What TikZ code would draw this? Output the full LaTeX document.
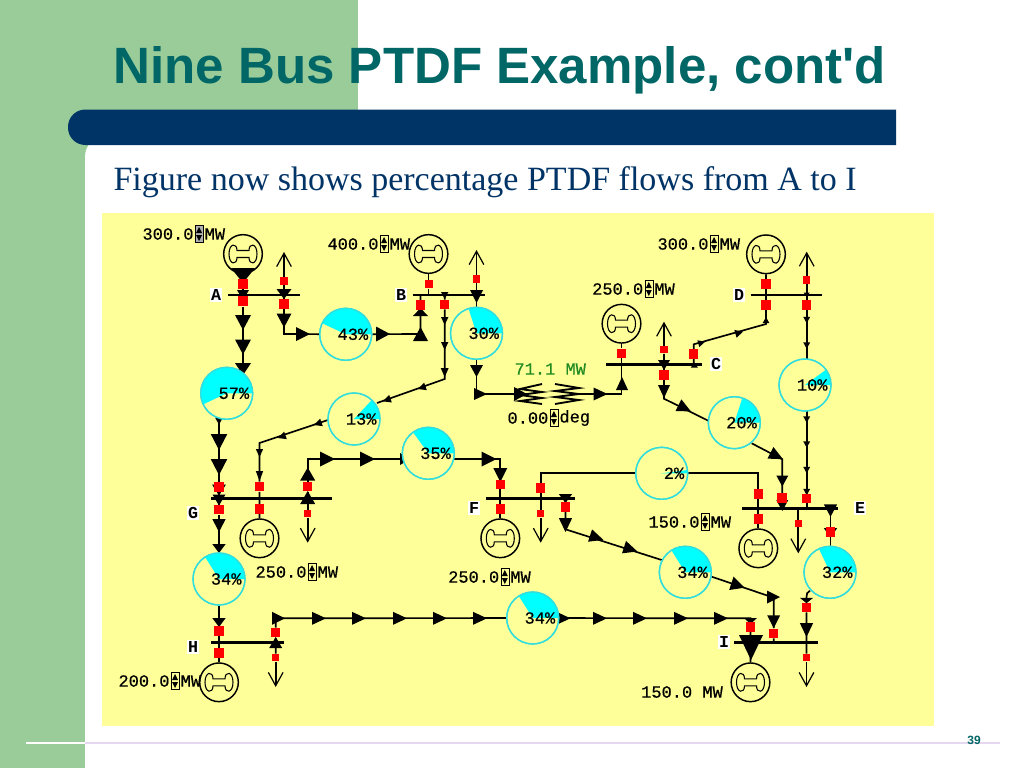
\documentclass[tikz,border=0pt]{standalone}
\usepackage{fontspec}
\setmainfont{Liberation Sans}
\newfontfamily\titlefam{Liberation Sans}
\newfontfamily\monofam[FakeBold=0.5]{Liberation Mono}
\newfontfamily\labelfam{Liberation Mono}
\newfontfamily\seriffam{Liberation Serif}
\usetikzlibrary{positioning,arrows.meta,backgrounds}

\definecolor{panelgreen}{RGB}{153,204,153}
\definecolor{barnavy}{RGB}{0,51,102}
\definecolor{titleteal}{RGB}{0,102,102}
\definecolor{panelyellow}{RGB}{255,255,153}
\definecolor{piecyan}{RGB}{0,255,255}
\definecolor{piering}{RGB}{51,221,221}
\definecolor{flowgreen}{RGB}{34,139,34}
\definecolor{rulelav}{RGB}{230,216,240}

\tikzset{every picture/.style={line width=0.75pt}}
\tikzset{
  flowline/.style={line width=1.25pt,color=black},
  loadline/.style={flowline,-{Straight Barb[length=10pt,width=11pt,line width=0.9pt]}},
  busline/.style={line width=1.9pt,color=black},
  breaker/.style={fill=red,inner sep=0pt,minimum size=7pt},
  smallbreaker/.style={fill=red,inner sep=0pt,minimum size=5.4pt},
  gencircle/.style={circle,draw,line width=1.1pt,inner sep=0pt,minimum size=29pt},
  piecircle/.style={circle,draw=piering,line width=1pt,fill=panelyellow,inner sep=0pt,minimum size=39pt},
  monotext/.style={font=\monofam\fontsize{12.75}{14}\selectfont,inner sep=0pt},
  pietext/.style={monotext,anchor=east,xshift=17.25pt},
  buslabel/.style={font=\labelfam\bfseries\fontsize{12.5}{14}\selectfont,fill=white,inner sep=1pt},
  spinbox/.style={draw,line width=0.4pt,inner sep=0pt,minimum width=6pt,minimum height=12.5pt},
}

% gen symbol
\newcommand{\genset}[3]{
  \node [gencircle] (#1) at (#2,#3) {};
  \draw [line width=0.8pt,shift={(#1)}] (-6,-3.5) .. controls (-6,-11.5) and (-14,-11) .. (-14,0) .. controls (-14,11) and (-6,11.5) .. (-6,3.5) -- (6,3.5) .. controls (6,11.5) and (14,11) .. (14,0) .. controls (14,-11) and (6,-11.5) .. (6,-3.5) -- cycle ;
}
% pie with percentage
\newcommand{\pieflow}[4]{
  \node [piecircle] (#1) at (#2,#3) {};
  \fill [piecyan,shift={(#1)}] (0,0) -- (26,0) arc [start angle=0,end angle=-3.6*#4,radius=26] -- cycle ;
  \draw [piering,line width=1pt] (#1) circle [radius=26];
  \node [pietext] (#1txt) at (#1) {#4\%};
}
% value, spin control and unit
\newcommand{\spinlabel}[6][panelyellow]{
  \node [monotext,anchor=west] (#2val) at (#3,#4) {#5};
  \node [spinbox,fill=#1,right=0.6pt of #2val] (#2spin) {};
  \fill [shift={(#2spin)}] (-3,-1) -- (3,-1) -- (0,-7) -- cycle ;
  \fill [shift={(#2spin)}] (-3,1) -- (3,1) -- (0,7) -- cycle ;
  \node [monotext,right=0.6pt of #2spin] (#2unit) {#6};
}
% triangle on a line: x, y, heading, length, half width
\newcommand{\flowtip}[5]{
  \fill [shift={(#1,#2)},rotate=#3] (-#4/2,-#5) -- (#4/2,0) -- (-#4/2,#5) -- cycle ;
}

\begin{document}
\begin{tikzpicture}[x=0.75pt,y=0.75pt,yscale=-1,xscale=1]
\useasboundingbox (0,0) rectangle (1024,768);

% Text Node
\node [font=\titlefam\bfseries\fontsize{38.3}{42}\selectfont,text=titleteal,anchor=west,inner sep=0pt] (title) at (113,70) {Nine Bus PTDF Example, cont'd};
\node [font=\seriffam\fontsize{25.5}{30}\selectfont,text=barnavy,anchor=west,inner sep=0pt] (subtitle) at (113,182) {Figure now shows percentage PTDF flows from A to I};
\node [font=\titlefam\bfseries\fontsize{9}{10}\selectfont,text=titleteal,inner sep=0pt] (pagenum) at (974,740) {39};

% Generators
\genset{genA}{243}{254}
\genset{genB}{428.5}{254}
\genset{genC}{621.5}{323.7}
\genset{genD}{766}{254.3}
\genset{genE}{758.3}{548.3}
\genset{genF}{500.3}{538.3}
\genset{genG}{259.5}{538.3}
\genset{genH}{219}{682.3}
\genset{genI}{750.5}{682.3}

% Pies
\pieflow{pie43}{345.7}{334.3}{43}
\pieflow{pie57}{226.7}{393.3}{57}
\pieflow{pie30}{476.5}{333.3}{30}
\pieflow{pie13}{354}{419}{13}
\pieflow{pie35}{428.3}{453.3}{35}
\pieflow{pie20}{734.3}{422.7}{20}
\pieflow{pie10}{805}{385}{10}
\pieflow{pie2}{661.7}{473.3}{2}
\pieflow{pie34G}{219}{579}{34}
\pieflow{pie34I}{532.7}{618}{34}
\pieflow{pie34F}{685.3}{572.3}{34}
\pieflow{pie32}{830}{572.3}{32}

% Breakers
\node [breaker] (brkAa) at (243,284) {};
\node [breaker,minimum size=7.5pt] (brkAb) at (243,301) {};
\node [smallbreaker] (brkAc) at (284,281) {};
\node [breaker] (brkAd) at (284,304) {};
\node [breaker,minimum size=6pt] (brkBa) at (428.5,284) {};
\node [breaker] (brkBb) at (420.5,305) {};
\node [breaker,minimum size=6.4pt] (brkBc) at (444.7,304.5) {};
\node [smallbreaker] (brkBd) at (476.5,279) {};
\node [breaker] (brkCa) at (621.5,353.3) {};
\node [smallbreaker] (brkCb) at (664,349.7) {};
\node [breaker] (brkCc) at (664,375) {};
\node [breaker] (brkCd) at (693.7,354) {};
\node [breaker] (brkDa) at (766,284) {};
\node [breaker] (brkDb) at (766,305) {};
\node [smallbreaker] (brkDc) at (806.7,280) {};
\node [breaker] (brkDd) at (806.7,305) {};
\node [breaker] (brkEa) at (758.3,494) {};
\node [breaker,minimum size=7.5pt] (brkEb) at (782.3,498.3) {};
\node [breaker] (brkEc) at (758.3,519) {};
\node [breaker] (brkEd) at (806.7,498.3) {};
\node [smallbreaker] (brkEe) at (798.3,523.7) {};
\node [breaker] (brkEf) at (830.5,532) {};
\node [breaker] (brkFa) at (500.3,484.3) {};
\node [breaker] (brkFb) at (500.3,509) {};
\node [breaker] (brkFc) at (540.7,488) {};
\node [smallbreaker] (brkFd) at (540.7,513.7) {};
\node [breaker] (brkFe) at (565.5,507) {};
\node [breaker,minimum size=7.5pt] (brkGa) at (219,487) {};
\node [breaker] (brkGb) at (219,509.7) {};
\node [breaker] (brkGc) at (259.5,486.7) {};
\node [breaker] (brkGe) at (259.5,509) {};
\node [breaker] (brkGd) at (307.7,486.7) {};
\node [smallbreaker] (brkGf) at (307.7,513.7) {};
\node [breaker] (brkHa) at (219,631) {};
\node [breaker] (brkHb) at (219,653) {};
\node [breaker] (brkHc) at (275.7,632.7) {};
\node [smallbreaker] (brkHd) at (275.7,657.7) {};
\node [breaker] (brkIa) at (773.7,633.3) {};
\node [breaker] (brkIb) at (806.5,607.3) {};
\node [smallbreaker] (brkIc) at (806.5,657.7) {};
\node [breaker] (brkId) at (750.5,627) {};

% Junctions and load ends
\coordinate (busAw) at (228,295); \coordinate (busAe) at (300,295);
\coordinate (busBw) at (412.7,295); \coordinate (busBe) at (485,295);
\coordinate (busCw) at (606,364.3); \coordinate (busCe) at (701.7,364.3);
\coordinate (busDw) at (750.7,295); \coordinate (busDe) at (822.3,295);
\coordinate (busEw) at (742.3,508.3); \coordinate (busEe) at (838.3,508.3);
\coordinate (busFw) at (485.7,498.3); \coordinate (busFe) at (575,498.3);
\coordinate (busGw) at (211,498.3); \coordinate (busGe) at (331.7,498.3);
\coordinate (busHw) at (211,642.7); \coordinate (busHe) at (284,642.7);
\coordinate (busIw) at (734.3,642.7); \coordinate (busIe) at (818.3,642.7);
\coordinate (loadA) at (284,252);
\coordinate (loadB) at (476.5,250);
\coordinate (loadC) at (664,321.7);
\coordinate (loadD) at (806.7,251.7);
\coordinate (loadE) at (798.3,553.3);
\coordinate (loadF) at (540.7,542.7);
\coordinate (loadG) at (307.7,542.7);
\coordinate (loadH) at (275.7,687);
\coordinate (loadI) at (806.5,687);
\coordinate (jctA) at (284,334);
\coordinate (jctB) at (420.5,334);
\coordinate (jctBc) at (444.7,379);
\coordinate (jctBe) at (476.5,394);
\coordinate (pt13in) at (377,403);
\coordinate (pt13out) at (328,420);
\coordinate (jctGa) at (259.5,443);
\coordinate (jctGb) at (307.7,459);
\coordinate (jctFb) at (500.3,459);
\coordinate (jctC) at (621.5,394);
\coordinate (jctCc) at (664,398.7);
\coordinate (pt20in) at (708.3,420.7);
\coordinate (pt20out) at (751.7,443.3);
\coordinate (jctEb) at (782.3,459.3);
\coordinate (jctCd) at (693.7,344.3);
\coordinate (jctD) at (766,324);
\coordinate (jctEa) at (758.3,473.3);
\coordinate (jctFa) at (540.7,473.3);
\coordinate (jctFc) at (565.5,529.3);
\coordinate (pt34in) at (661.7,560);
\coordinate (pt34out) at (711.7,576.7);
\coordinate (jctIb) at (773.7,597.7);
\coordinate (jctH) at (275.7,618.3);
\coordinate (jctIa) at (750.5,618.3);
\coordinate (pt32out) at (810,590.7);
\coordinate (jctIc) at (806.5,597);
\coordinate (xfmrW) at (522,394);
\coordinate (xfmrE) at (572,394);

\begin{scope}[on background layer]
%Shape: page panels
\fill [white] (0,0) rectangle (1024,768);
\fill [panelgreen] (0,0) rectangle (358,768);
\fill [white,rounded corners=16.5pt] (85,135) rectangle (1100,830);
\fill [barnavy] (896,109.5) [rounded corners=13pt] -- (68,109.5) -- (68,145) [sharp corners] -- (896,145) -- cycle ;
\fill [panelyellow] (102,212.5) rectangle (934,726);
\draw [white,line width=0.9pt] (26,743) -- (85,743);
\draw [rulelav,line width=0.9pt] (85,743) -- (1000,743);

%Straight Lines: buses
\foreach \busname in {A,B,C,D,E,F,G,H,I} {\draw [busline] (bus\busname w) -- (bus\busname e);}

%Straight Lines: bus A
\draw [flowline] (genA) -- (brkAa) -- (brkAb) -- (brkAb |- pie57);
\draw [loadline] (brkAc) -- (loadA);
\draw [flowline] (brkAc) -- (brkAd) -- (jctA) -- (pie43);
%Straight Lines: bus B
\draw [flowline] (genB) -- (brkBa) -- (brkBa |- busBw);
\draw [flowline] (pie43) -- (jctB) -- (brkBb) -- (brkBb |- busBw);
\draw [flowline] (brkBc |- busBw) -- (brkBc) -- (jctBc) -- (pt13in);
\draw [flowline] (pt13out) -- (jctGa) -- (brkGc) -- (brkGe) -- (genG);
\draw [loadline] (brkBd) -- (loadB);
\draw [flowline] (brkBd) -- (pie30) -- (jctBe) -- (xfmrW);
%Transformer
\draw [flowline,line width=1.4pt] (542,384) -- (520,389) -- (542,392) -- (520,395) -- (542,398) -- (520,401) -- (542,404);
\draw [flowline,line width=1.4pt] (555,384) -- (579,388) -- (555,391) -- (579,394) -- (555,397) -- (579,400) -- (555,404);
%Straight Lines: bus C
\draw [flowline] (genC) -- (brkCa) -- (jctC) -- (xfmrE);
\draw [loadline] (brkCb) -- (loadC);
\draw [flowline] (brkCb) -- (brkCc) -- (jctCc) -- (pt20in);
\draw [flowline] (pt20out) -- (jctEb) -- (brkEb) -- (brkEb |- busEw);
\draw [flowline] (brkCd |- busCw) -- (brkCd) -- (jctCd) -- (jctD) -- (brkDb) -- (brkDa) -- (genD);
%Straight Lines: bus D
\draw [loadline] (brkDc) -- (loadD);
\draw [flowline] (brkDc) -- (brkDd) -- (brkDd |- pie10) -- (brkEd) -- (brkEd |- busEw);
%Straight Lines: bus E
\draw [flowline] (genE) -- (brkEc) -- (brkEa) -- (jctEa) -- (pie2) -- (jctFa) -- (brkFc) -- (brkFd);
\draw [loadline] (brkFd) -- (loadF);
\draw [loadline] (brkEe |- busEw) -- (loadE);
\draw [flowline] (brkEf |- busEw) -- (brkEf) -- (brkEf |- pie32);
\draw [flowline] (pt32out) .. controls (807,592) and (806.5,594) .. (jctIc) -- (brkIb) -- (brkIc);
\draw [loadline] (brkIc) -- (loadI);
%Straight Lines: bus F
\draw [flowline] (genF) -- (brkFb) -- (brkFa) -- (jctFb) -- (jctGb -| pie35) -- (jctGb) -- (brkGd) -- (brkGf);
\draw [loadline] (brkGf) -- (loadG);
\draw [flowline] (brkFe |- busFw) -- (brkFe) -- (jctFc) -- (pt34in);
\draw [flowline] (pt34out) -- (jctIb) -- (brkIa) -- (brkIa |- busIw);
%Straight Lines: bus G and H
\draw [flowline] (brkGa |- pie57) -- (brkGa) -- (brkGb) -- (pie34G) -- (brkHa) -- (brkHb) -- (genH);
\draw [loadline] (brkHd) -- (loadH);
\draw [flowline] (brkHd) -- (brkHc) -- (jctH) -- (pie34I) -- (jctIa) -- (brkId) -- (genI);

%Shape: flow triangles
\flowtip{243}{275.5}{90}{15}{12}
\flowtip{243}{295}{90}{10}{6}
\flowtip{243}{322.5}{90}{15}{8}
\flowtip{243}{347}{90}{15}{8}
\flowtip{243}{369}{90}{12}{8}
\flowtip{284}{294}{90}{10}{7.5}
\flowtip{284}{320.5}{90}{14}{7.5}
\flowtip{303}{334}{0}{14}{7}
\flowtip{383}{334}{0}{14}{7.5}
\flowtip{420.5}{312}{-90}{8}{7.5}
\flowtip{420.5}{334}{-90}{14}{7.5}
\flowtip{444.7}{295.5}{90}{7}{3.7}
\flowtip{444.7}{321}{90}{8}{3.7}
\flowtip{444.7}{346}{90}{8}{3.7}
\flowtip{444.7}{372.5}{90}{9}{4}
\flowtip{476.5}{296.5}{90}{13}{6.5}
\flowtip{476.5}{371}{90}{12}{6.5}
\flowtip{480.5}{394}{0}{13}{6}
\flowtip{520.5}{394}{0}{13}{7}
\flowtip{600.5}{394}{0}{14}{6.5}
\flowtip{622}{383.5}{-90}{13}{6}
\foreach \px/\py in {421.7/387.7,386.7/400,317.7/423.7,281.7/436.7} {\flowtip{\px}{\py}{160.5}{8}{4}}
\flowtip{259.5}{453}{90}{8}{3.7}
\flowtip{259.5}{476}{90}{10}{3.7}
\flowtip{307.7}{474}{-90}{13}{7.5}
\flowtip{307.7}{497.5}{-90}{13}{7.5}
\flowtip{327.5}{459}{0}{15}{7.5}
\flowtip{367.5}{459}{0}{15}{7.5}
\flowtip{405}{459}{0}{10}{6}
\flowtip{489}{459}{0}{15}{7.5}
\flowtip{500.3}{475}{90}{14}{7}
\flowtip{219}{421}{90}{7}{4}
\flowtip{219}{442}{90}{16}{8.3}
\flowtip{219}{467}{90}{16}{8.3}
\flowtip{219}{490}{90}{11}{7}
\flowtip{219}{500}{90}{11}{6.5}
\flowtip{219}{525.5}{90}{13}{6.7}
\flowtip{219}{548.5}{90}{9}{6.7}
\flowtip{219}{622.5}{90}{9}{6.7}
\flowtip{275.7}{642.5}{-90}{11}{6.5}
\flowtip{278.5}{618.3}{0}{13}{6.5}
\foreach \px in {319,359,400,440,480,563.5,600,640,681,721} {\flowtip{\px}{618.3}{0}{14}{6.5}}
\flowtip{750.5}{621}{90}{6}{6.5}
\flowtip{751}{647.5}{90}{25}{12}
\flowtip{773.7}{621.8}{90}{13}{6.5}
\flowtip{773.5}{597}{0}{13}{6.5}
\flowtip{738}{585.5}{18}{14}{7}
\flowtip{565.5}{498.5}{90}{9}{6.7}
\flowtip{565.5}{525}{90}{14}{6.7}
\flowtip{596.7}{537.7}{18}{14}{6.5}
\flowtip{630.7}{549.3}{18}{14}{6.5}
\flowtip{782.3}{481}{90}{11}{6}
\flowtip{782.3}{505.5}{90}{11}{6}
\flowtip{776.7}{456}{27}{14}{6.5}
\flowtip{684.7}{408.3}{26.6}{14}{6.5}
\flowtip{664}{365}{90}{10}{6}
\flowtip{664}{391.5}{90}{13}{6}
\flowtip{694.3}{365}{-90}{5}{3.5}
\flowtip{766}{320}{-90}{6}{3.3}
\flowtip{739.3}{332.7}{-16}{8}{4}
\flowtip{701.7}{342.7}{-16}{7}{3.5}
\flowtip{806.7}{295}{90}{5}{3}
\foreach \py in {320,345.5,419.5,444.5,470,492} {\flowtip{806.7}{\py}{90}{6.5}{3.5}}
\flowtip{830.5}{510.5}{90}{12.5}{6.7}
\flowtip{830.5}{533}{90}{10}{6.7}
\flowtip{806.5}{600.5}{90}{5.5}{6.7}
\flowtip{806.5}{630}{90}{14}{6.7}
\end{scope}

% Text Node
\node [buslabel] (lblA) at (216,295) {A};
\node [buslabel] (lblB) at (401,295) {B};
\node [buslabel] (lblC) at (716,364) {C};
\node [buslabel] (lblD) at (739,295) {D};
\node [buslabel] (lblE) at (860,508) {E};
\node [buslabel] (lblF) at (474,508) {F};
\node [buslabel] (lblG) at (193,513) {G};
\node [buslabel] (lblH) at (193,647) {H};
\node [buslabel] (lblI) at (724,642) {I};
\spinlabel[gray!60]{mwA}{142}{234}{300.0}{MW}
\spinlabel{mwB}{327}{244}{400.0}{MW}
\spinlabel{mwD}{657}{244}{300.0}{MW}
\spinlabel{mwC}{591.7}{289}{250.0}{MW}
\spinlabel{mwG}{255}{572}{250.0}{MW}
\spinlabel{mwF}{447.7}{577}{250.0}{MW}
\spinlabel{mwE}{648}{522}{150.0}{MW}
\spinlabel{mwH}{118}{681}{200.0}{MW}
\spinlabel{ang}{507}{418}{0.00}{deg}
\node [monotext,anchor=west] (mwI) at (640.7,692) {150.0 MW};
\node [monotext,anchor=west,text=flowgreen] (flowval) at (514,369) {71.1 MW};

\end{tikzpicture}
\end{document}
